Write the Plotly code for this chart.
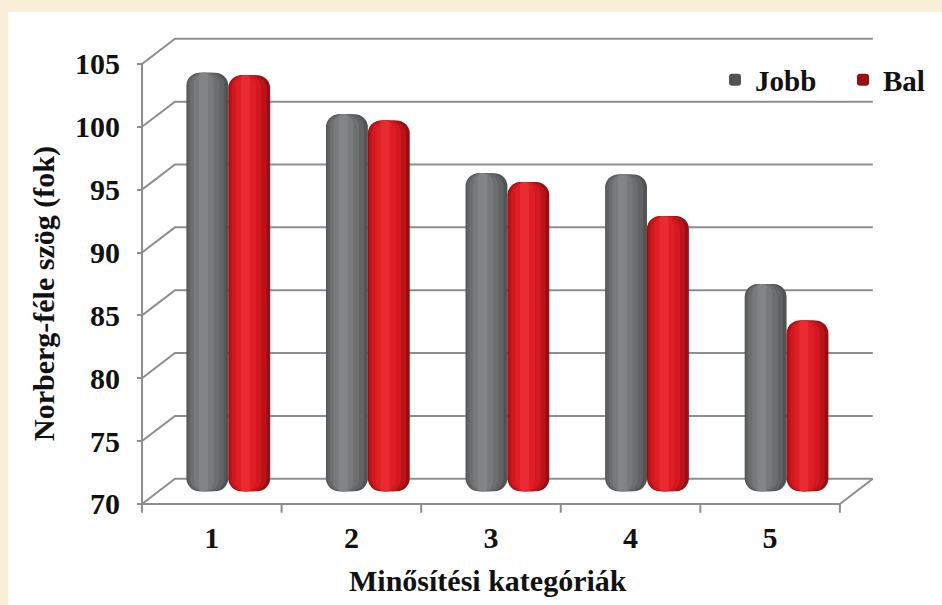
import plotly.graph_objects as go

# ---- data -------------------------------------------------------------
categories = [1, 2, 3, 4, 5]
category_labels = ["1", "2", "3", "4", "5"]
jobb = [103.3, 100.0, 95.3, 95.2, 86.5]
bal = [103.1, 99.5, 94.6, 91.9, 83.6]
y_ticks = [70, 75, 80, 85, 90, 95, 100, 105]

BASE = 70

# ---- geometry of the pseudo-3D box (in axis units) --------------------
DX = 0.236          # depth shift of the back wall along x (category units)
DY = 2.0            # depth shift of the back wall along y (value units)
X0, X1 = 0.464, 5.5 + DX + 0.03
Y0, Y1 = 69.2, 107.3
BAR_W = 0.30

W, H = 942, 605
ML, MR, MT, MB = 137, 65, 35, 91

FONT = "'Liberation Serif', 'Times New Roman', Times, serif"
LINE = "#8e8e8e"
CREAM = "#fcefd9"

# cylinder shading: (width fraction, centre shift as fraction of bar, colour)
gray_layers = [
    (1.00, 0.00, "#525355"),
    (0.88, -0.03, "#616264"),
    (0.70, -0.06, "#6d6e70"),
    (0.48, -0.08, "#78797b"),
    (0.22, -0.09, "#838486"),
]
red_layers = [
    (1.00, 0.00, "#9a0d13"),
    (0.88, -0.03, "#bb131a"),
    (0.70, -0.06, "#d21920"),
    (0.48, -0.08, "#df1d25"),
    (0.22, -0.09, "#ea2a31"),
]

fig = go.Figure()


def add_cylinders(name, values, centre, layers):
    for i, (wf, shift, color) in enumerate(layers):
        width = BAR_W * wf
        fig.add_trace(go.Bar(
            x=categories,
            y=[v - BASE for v in values],
            base=BASE,
            width=width,
            offset=centre + shift * BAR_W - width / 2,
            marker=dict(color=color, line=dict(width=0), cornerradius=13),
            name=name,
            legendgroup=name,
            showlegend=(i == 0),
            xaxis="x2",
            yaxis="y2",
            hovertemplate=name + " %{x}: %{customdata}<extra></extra>",
            customdata=values,
        ))


add_cylinders("Jobb", jobb, -BAR_W / 2, gray_layers)
add_cylinders("Bal", bal, BAR_W / 2, red_layers)

# ---- box: side-wall / back-wall grid, floor, front axis ---------------
shapes = []
for v in y_ticks:
    shapes.append(dict(
        type="path", xref="x", yref="y",
        path=f"M {0.5},{v} L {0.5 + DX},{v + DY} L {5.5 + DX},{v + DY}",
        line=dict(color=LINE, width=2), layer="below"))
shapes.append(dict(
    type="path", xref="x", yref="y",
    path=f"M 0.5,{BASE} L 5.5,{BASE} L {5.5 + DX},{BASE + DY}",
    line=dict(color=LINE, width=2), layer="below"))
shapes.append(dict(
    type="line", xref="x", yref="y", x0=0.5, x1=0.5, y0=BASE, y1=y_ticks[-1],
    line=dict(color=LINE, width=2), layer="below"))
for k in range(len(categories) + 1):
    b = 0.5 + k
    shapes.append(dict(
        type="line", xref="x", yref="y", x0=b, x1=b, y0=BASE, y1=BASE - 0.7,
        line=dict(color=LINE, width=2), layer="below"))


# cream frame around the white chart panel
def px_x(px):
    return (px - ML) / (W - ML - MR)


def px_y(py):
    return (H - MB - py) / (H - MT - MB)


shapes.append(dict(type="rect", xref="paper", yref="paper",
                   x0=px_x(0), x1=px_x(W), y0=px_y(12), y1=px_y(0),
                   fillcolor=CREAM, line=dict(width=0), layer="below"))
shapes.append(dict(type="rect", xref="paper", yref="paper",
                   x0=px_x(0), x1=px_x(8), y0=px_y(H), y1=px_y(0),
                   fillcolor=CREAM, line=dict(width=0), layer="below"))

text_font = dict(family=FONT, size=30, color="#111111", weight="bold")
legend_font = dict(family=FONT, size=29, color="#111111", weight="bold")

fig.update_layout(
    width=W, height=H,
    margin=dict(l=ML, r=MR, t=MT, b=MB, autoexpand=False),
    paper_bgcolor="white",
    plot_bgcolor="rgba(0,0,0,0)",
    barmode="overlay",
    shapes=shapes,
    showlegend=True,
    legend=dict(
        orientation="h", x=px_x(715), y=px_y(80), xanchor="left", yanchor="middle",
        font=legend_font, bgcolor="rgba(0,0,0,0)", itemclick=False,
        traceorder="normal", entrywidth=83, entrywidthmode="pixels",
    ),
    xaxis=dict(
        range=[X0, X1], tickvals=categories, ticktext=category_labels,
        ticks="", showline=False, showgrid=False, zeroline=False,
        tickfont=text_font, ticklabelstandoff=3,
    ),
    yaxis=dict(
        range=[Y0, Y1], tickvals=y_ticks, ticks="inside", ticklen=5,
        tickwidth=2, tickcolor=LINE, showline=False, showgrid=False,
        zeroline=False, tickfont=text_font, ticklabelstandoff=16,
    ),
    # bars stand half-way into the box depth
    xaxis2=dict(range=[X0 - DX / 2, X1 - DX / 2], overlaying="x", visible=False),
    yaxis2=dict(range=[Y0 - DY / 2, Y1 - DY / 2], overlaying="y", visible=False),
    annotations=[
        dict(text="Minősítési kategóriák", xref="paper", yref="paper",
             x=px_x(488), y=px_y(580), xanchor="center", yanchor="middle",
             showarrow=False, font=text_font),
        dict(text="Norberg-féle szög (fok)", xref="paper", yref="paper",
             x=px_x(44), y=px_y(294), xanchor="center", yanchor="middle",
             showarrow=False, textangle=-90, font=text_font),
    ],
)

fig.write_html("out.html")
